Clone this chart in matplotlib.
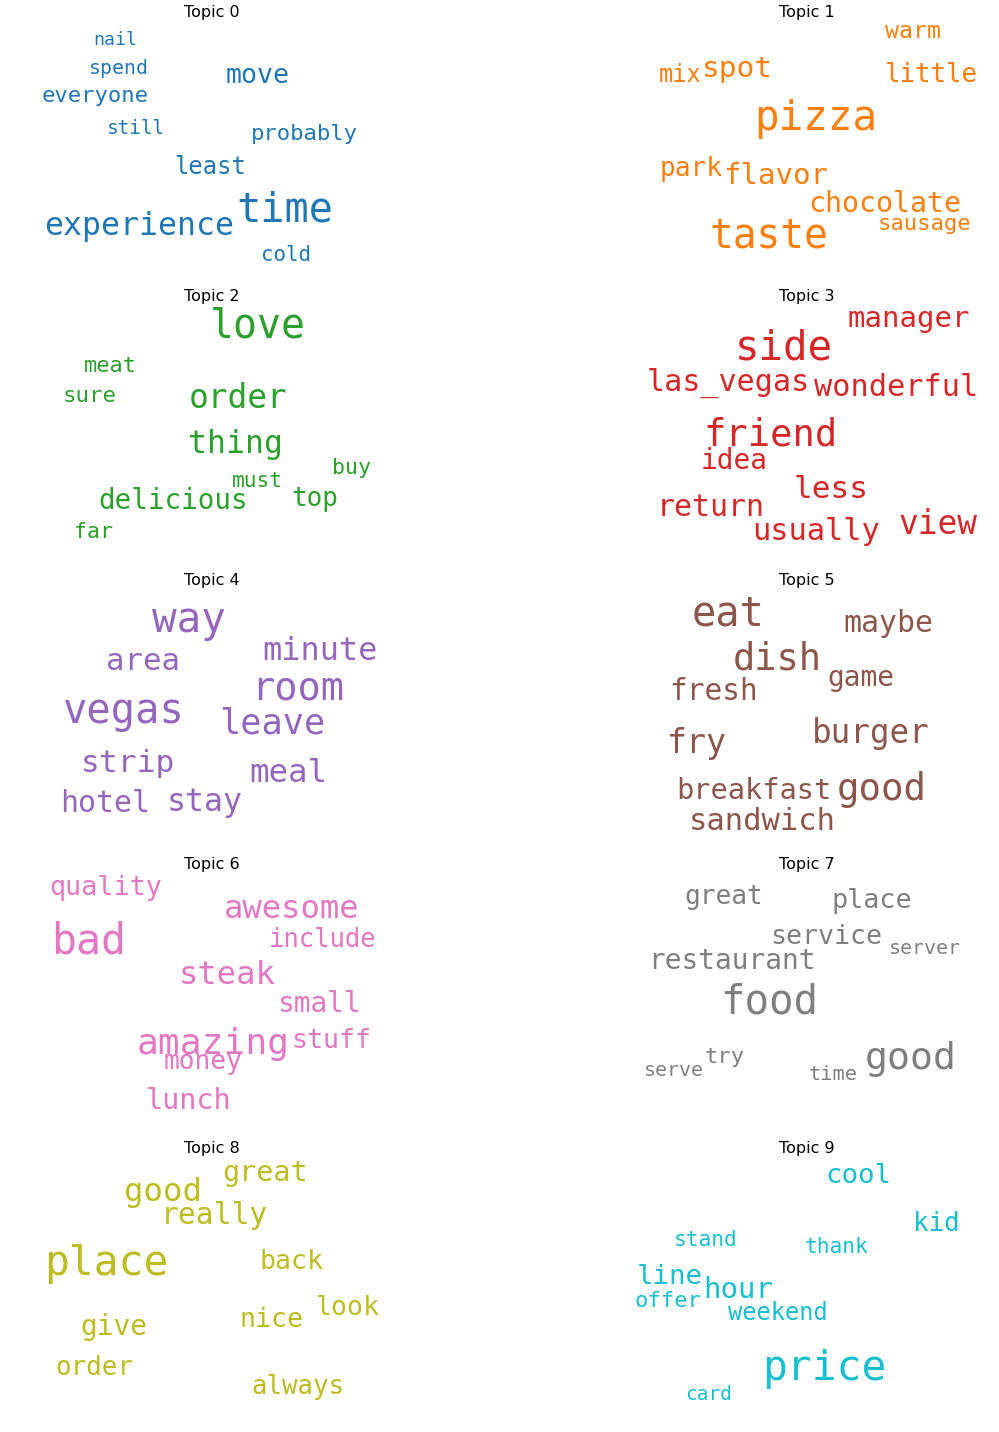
import matplotlib.pyplot as plt

colors = ['#1f77b4', '#ff7f0e', '#2ca02c', '#d62728', '#9467bd',
          '#8c564b', '#e377c2', '#7f7f7f', '#bcbd22', '#17becf']

# word, centre x, centre y, drawn width (all in picture pixels)
topic0 = [('nail', 115, 41, 44), ('spend', 119, 69, 60), ('everyone', 95, 97, 107),
          ('still', 136, 129, 58), ('move', 258, 77, 64), ('probably', 304, 135, 107),
          ('least', 210, 168, 72), ('experience', 139, 228, 190), ('time', 285, 212, 97),
          ('cold', 286, 256, 50)]
topic1 = [('warm', 913, 32, 56), ('little', 931, 76, 93), ('mix', 680, 76, 43),
          ('spot', 737, 70, 71), ('pizza', 816, 120, 123), ('park', 691, 170, 63),
          ('flavor', 776, 177, 105), ('chocolate', 885, 205, 153), ('sausage', 924, 225, 94),
          ('taste', 769, 237, 119)]
topic2 = [('love', 258, 328, 96), ('meat', 110, 367, 53), ('sure', 90, 397, 54),
          ('order', 238, 400, 99), ('thing', 235, 446, 95), ('buy', 351, 469, 39),
          ('must', 257, 482, 51), ('delicious', 173, 502, 150), ('top', 315, 500, 47),
          ('far', 93, 533, 39)]
topic3 = [('manager', 909, 320, 122), ('side', 784, 349, 98), ('las_vegas', 728, 384, 163),
          ('wonderful', 896, 389, 164), ('friend', 771, 436, 134), ('idea', 734, 462, 67),
          ('less', 831, 490, 75), ('return', 711, 508, 108), ('usually', 816, 533, 128),
          ('view', 938, 526, 79)]
topic4 = [('way', 189, 622, 74), ('minute', 320, 652, 115), ('area', 143, 663, 74),
          ('room', 298, 689, 93), ('vegas', 123, 713, 122), ('leave', 272, 725, 106),
          ('strip', 128, 765, 94), ('meal', 288, 774, 78), ('hotel', 105, 805, 90),
          ('stay', 205, 804, 76)]
topic5 = [('eat', 728, 616, 73), ('maybe', 888, 625, 90), ('dish', 777, 660, 89),
          ('game', 861, 679, 67), ('fresh', 714, 692, 89), ('fry', 697, 745, 60),
          ('burger', 871, 734, 118), ('breakfast', 754, 792, 155), ('good', 882, 791, 90),
          ('sandwich', 762, 822, 147)]
topic6 = [('quality', 106, 889, 113), ('bad', 89, 942, 75), ('awesome', 292, 911, 136),
          ('include', 323, 941, 108), ('steak', 227, 977, 97), ('small', 319, 1005, 84),
          ('amazing', 213, 1045, 153), ('stuff', 331, 1042, 80), ('money', 203, 1063, 79),
          ('lunch', 189, 1102, 86)]
topic7 = [('great', 724, 898, 79), ('place', 872, 902, 81), ('service', 826, 938, 112),
          ('server', 925, 950, 72), ('restaurant', 732, 962, 168), ('food', 769, 1004, 98),
          ('try', 725, 1058, 40), ('serve', 674, 1072, 60), ('time', 833, 1076, 49),
          ('good', 911, 1060, 92)]
topic8 = [('great', 265, 1174, 86), ('good', 163, 1193, 78), ('really', 214, 1217, 107),
          ('place', 106, 1265, 124), ('back', 291, 1263, 64), ('look', 348, 1309, 64),
          ('nice', 271, 1321, 64), ('give', 114, 1328, 67), ('order', 94, 1369, 78),
          ('always', 298, 1388, 93)]
topic9 = [('cool', 858, 1177, 66), ('kid', 936, 1225, 47), ('stand', 706, 1241, 64),
          ('thank', 836, 1248, 64), ('line', 670, 1278, 66), ('hour', 738, 1291, 70),
          ('offer', 668, 1302, 67), ('weekend', 778, 1314, 100), ('price', 824, 1370, 124),
          ('card', 709, 1395, 47)]
topics = [topic0, topic1, topic2, topic3, topic4, topic5, topic6, topic7, topic8, topic9]

fig = plt.figure(figsize=(9.99, 14.32), dpi=100)
ax = fig.add_axes([0, 0, 1, 1])
ax.set_xlim(0, 999)
ax.set_ylim(1432, 0)
ax.axis('off')

for i, words in enumerate(topics):
    tx = 212 if i % 2 == 0 else 807
    ty = 13 + (i // 2) * 284
    ax.text(tx, ty, 'Topic %d' % i, ha='center', va='center', fontsize=11.5)
    for w, x, y, width in words:
        size = width / (len(w) * 0.602) * 0.72
        ax.text(x, y - 1, w, ha='center', va='center', fontsize=size,
                family='DejaVu Sans Mono', color=colors[i])

fig.savefig('out.png', dpi=100)
